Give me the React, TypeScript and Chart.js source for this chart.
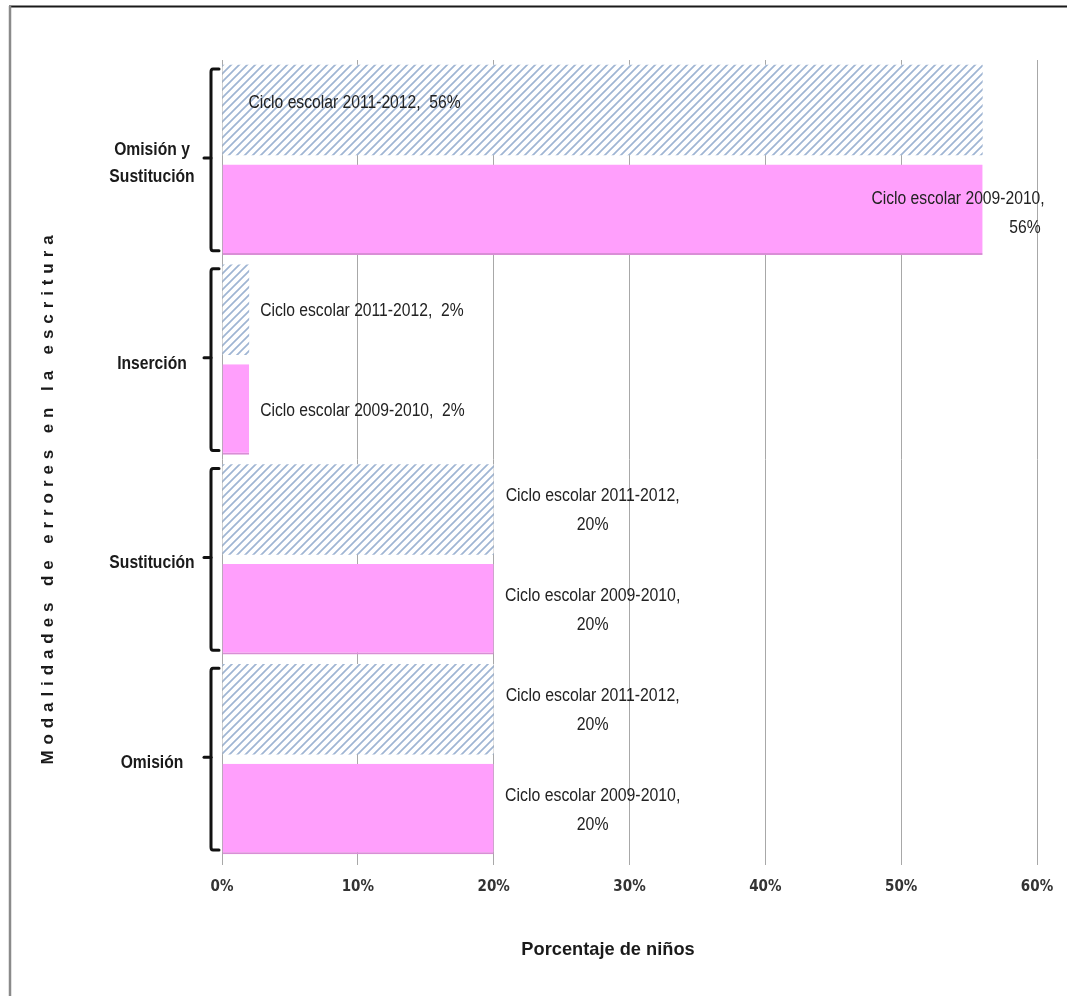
import React, { useEffect, useRef } from "react";
import { Chart, registerables } from "chart.js";

Chart.register(...registerables);

const categories: (string | string[])[] = [["Omisión y", "Sustitución"], "Inserción", "Sustitución", "Omisión"];
const seriesNames = ["Ciclo escolar 2011-2012", "Ciclo escolar 2009-2010"];
const values2011 = [56, 2, 20, 20];
const values2009 = [56, 2, 20, 20];
const xTicks = [0, 10, 20, 30, 40, 50, 60];
const yTitle = "Modalidades de errores en la escritura";
const xTitle = "Porcentaje de niños";

const CONDENSED = '"DejaVu Sans Condensed", "Liberation Sans Narrow", "Liberation Sans", Arial, sans-serif';
const WIDE = '"Liberation Sans", Arial, sans-serif';

function makeHatch(): CanvasPattern | string {
  const c = document.createElement("canvas");
  c.width = 8;
  c.height = 8;
  const g = c.getContext("2d");
  if (!g) return "#a8bcd6";
  g.fillStyle = "#ffffff";
  g.fillRect(0, 0, 8, 8);
  g.strokeStyle = "#9fb5d3";
  g.lineWidth = 1.7;
  g.beginPath();
  g.moveTo(-2, 10);
  g.lineTo(10, -2);
  g.moveTo(-6, 6);
  g.lineTo(6, -6);
  g.moveTo(2, 14);
  g.lineTo(14, 2);
  g.stroke();
  const p = g.createPattern(c, "repeat");
  return p || "#a8bcd6";
}

function narrowText(ctx: CanvasRenderingContext2D, text: string, x: number, y: number, align: CanvasTextAlign, sx = 0.87) {
  ctx.save();
  ctx.translate(x, y);
  ctx.scale(sx, 1);
  ctx.textAlign = align;
  ctx.fillText(text, 0, 0);
  ctx.restore();
}

const decorPlugin = {
  id: "decor",
  beforeDraw(chart: any) {
    const ctx = chart.ctx;
    ctx.save();
    ctx.fillStyle = "#ffffff";
    ctx.fillRect(0, 0, chart.width, chart.height);
    ctx.strokeStyle = "#1a1a1a";
    ctx.lineWidth = 2;
    ctx.beginPath();
    ctx.moveTo(9, 6.5);
    ctx.lineTo(chart.width, 6.5);
    ctx.stroke();
    ctx.strokeStyle = "#8a8a8a";
    ctx.lineWidth = 2.5;
    ctx.beginPath();
    ctx.moveTo(10, 6);
    ctx.lineTo(10, chart.height);
    ctx.stroke();
    ctx.restore();
  },
  afterDraw(chart: any) {
    const ctx = chart.ctx;
    const yScale = chart.scales.y;
    const area = chart.chartArea;
    ctx.save();
    const n = categories.length;
    const step = (area.bottom - area.top) / n;
    const bx = area.left - 11;
    ctx.strokeStyle = "#111";
    ctx.lineWidth = 3;
    ctx.lineJoin = "round";
    ctx.lineCap = "round";
    for (let i = 0; i < n; i++) {
      const cy = yScale.getPixelForValue(i);
      const top = cy - step / 2 + 9;
      const bot = cy + step / 2 - 9;
      ctx.beginPath();
      ctx.moveTo(bx + 8, top);
      ctx.lineTo(bx + 2, top);
      ctx.quadraticCurveTo(bx, top, bx, top + 3);
      ctx.lineTo(bx, bot - 3);
      ctx.quadraticCurveTo(bx, bot, bx + 2, bot);
      ctx.lineTo(bx + 8, bot);
      ctx.stroke();
      ctx.beginPath();
      ctx.moveTo(bx, cy - 2);
      ctx.lineTo(bx - 7, cy - 2);
      ctx.stroke();

      const lab = categories[i];
      const lines = Array.isArray(lab) ? lab : [lab];
      ctx.fillStyle = "#1a1a1a";
      ctx.font = `bold 18px ${WIDE}`;
      ctx.textBaseline = "middle";
      const lh = 27;
      lines.forEach((t, k) => {
        narrowText(ctx, t, area.left - 70, cy + 4 + (k - (lines.length - 1) / 2) * lh, "center", 0.87);
      });
    }

    ctx.font = `18px ${WIDE}`;
    ctx.fillStyle = "#222";
    ctx.textBaseline = "middle";
    chart.data.datasets.forEach((ds: any, di: number) => {
      const meta = chart.getDatasetMeta(di);
      meta.data.forEach((bar: any, i: number) => {
        const v = ds.data[i];
        const name = seriesNames[di];
        const endX = bar.x;
        const y = bar.y;
        if (v > 50) {
          if (di === 0) {
            narrowText(ctx, `${name},  ${v}%`, bar.base + 26, y - 7, "left");
          } else {
            narrowText(ctx, `${name},`, endX + 62, y - 11, "right");
            narrowText(ctx, `${v}%`, endX + 58, y + 18, "right");
          }
        } else if (v < 5) {
          narrowText(ctx, `${name},  ${v}%`, endX + 11, y + 1, "left");
        } else {
          narrowText(ctx, `${name},`, endX + 99, y - 13, "center", 0.88);
          narrowText(ctx, `${v}%`, endX + 99, y + 16, "center", 0.88);
        }
      });
    });

    ctx.fillStyle = "#1a1a1a";
    ctx.font = `bold 19px ${WIDE}`;
    ctx.textBaseline = "middle";
    narrowText(ctx, xTitle, 608, 950, "center", 0.96);

    ctx.save();
    ctx.translate(48, 497);
    ctx.rotate(-Math.PI / 2);
    ctx.font = `bold 17px ${WIDE}`;
    (ctx as any).letterSpacing = "5.9px";
    ctx.textAlign = "center";
    ctx.fillText(yTitle, 0, 0);
    ctx.restore();

    ctx.restore();
  },
};

export default function App() {
  const ref = useRef<HTMLCanvasElement | null>(null);
  useEffect(() => {
    if (!ref.current) return;
    const hatch = makeHatch();
    const chart = new Chart(ref.current, {
      type: "bar",
      data: {
        labels: categories.map((c) => (Array.isArray(c) ? c.join(" ") : c)),
        datasets: [
          {
            label: seriesNames[0],
            data: values2011,
            backgroundColor: hatch as any,
            borderWidth: 0,
            barPercentage: 0.905,
            categoryPercentage: 1,
          },
          {
            label: seriesNames[1],
            data: values2009,
            backgroundColor: "#ff9ffc",
            borderColor: "#d98ed6",
            borderWidth: { top: 0, right: 0, left: 0, bottom: 2 } as any,
            borderSkipped: false,
            barPercentage: 0.905,
            categoryPercentage: 1,
          },
        ],
      },
      options: {
        indexAxis: "y",
        animation: false,
        responsive: false,
        maintainAspectRatio: false,
        layout: { padding: { top: 60, right: 30, left: 0, bottom: 0 } },
        plugins: {
          legend: { display: false },
          tooltip: { enabled: false },
          title: { display: false },
        },
        scales: {
          x: {
            min: xTicks[0],
            max: xTicks[xTicks.length - 1],
            afterBuildTicks: (s: any) => {
              s.ticks = xTicks.map((v) => ({ value: v }));
            },
            afterFit: (s: any) => {
              s.height = 137;
            },
            grid: {
              display: true,
              color: "#a8a8a8",
              lineWidth: 1,
              tickLength: 6,
              drawOnChartArea: true,
            },
            border: { display: false },
            ticks: {
              padding: 13,
              color: "#333",
              font: { family: CONDENSED, size: 15, weight: "bold" },
              callback: (v: any) => `${v}%`,
              maxRotation: 0,
            },
          },
          y: {
            afterFit: (s: any) => {
              s.width = 222;
            },
            grid: { display: false },
            border: { display: false },
            ticks: { display: false },
          },
        },
      },
      plugins: [decorPlugin],
    });
    return () => chart.destroy();
  }, []);
  return (
    <div style={{ position: "absolute", left: 0, top: 0, width: 1067, height: 996 }}>
      <canvas ref={ref} width={1067} height={996} style={{ display: "block", width: 1067, height: 996 }} />
    </div>
  );
}
